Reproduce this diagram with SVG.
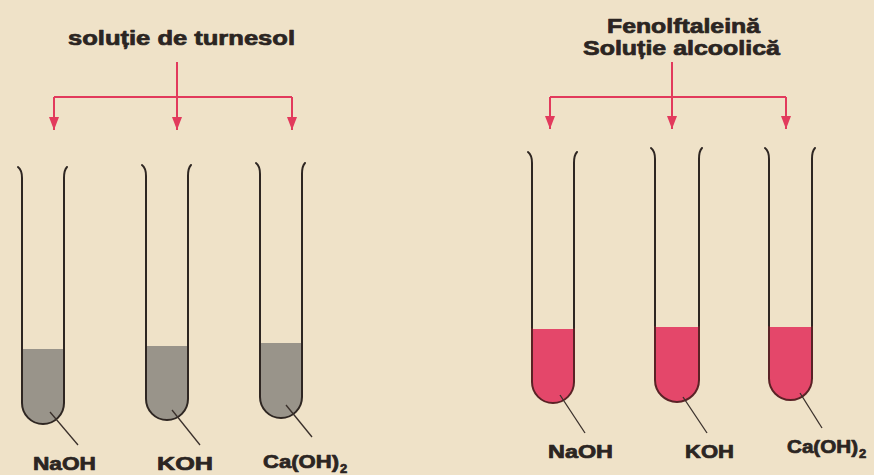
<svg xmlns="http://www.w3.org/2000/svg" width="874" height="475" viewBox="0 0 874 475">
  <defs>
    <style>
      .bg { fill: #efe2c8; }
      .lbl { font-family: "Liberation Sans", Arial, sans-serif; font-weight: bold; fill: #2b2522; stroke: #2b2522; stroke-width: 0.7; stroke-linejoin: round; }
      .wire { fill: none; stroke: #e23a5c; stroke-width: 2; }
      .glass { fill: none; stroke: #2e2622; stroke-width: 2; stroke-linecap: round; }
      .glass-red { fill: none; stroke: #5a2226; stroke-width: 2; stroke-linecap: round; }
      .lead { fill: none; stroke: #3a302b; stroke-width: 1.3; }
      .grey { fill: #99948a; }
      .pink { fill: #e4476a; }
    </style>
    <marker id="tip" viewBox="0 0 13 10" refX="13" refY="5" markerWidth="13" markerHeight="10" markerUnits="userSpaceOnUse" orient="auto">
      <path d="M0,0 L13,5 L0,10 Z" fill="#e23a5c"/>
    </marker>
  </defs>

  <rect class="bg" x="0" y="0" width="874" height="475"/>

  <!-- indicator labels -->
  <g id="title-litmus">
    <text class="lbl" x="68" y="45" font-size="20" textLength="227" lengthAdjust="spacingAndGlyphs">soluție de turnesol</text>
  </g>
  <g id="title-phenolphthalein">
    <text class="lbl" x="607" y="33" font-size="20" textLength="153" lengthAdjust="spacingAndGlyphs">Fenolftaleină</text>
    <text class="lbl" x="583" y="55" font-size="20" textLength="197" lengthAdjust="spacingAndGlyphs">Soluție alcoolică</text>
  </g>

  <!-- distribution arrows -->
  <g id="connectors">
    <path class="wire" d="M177,62 L177,130" marker-end="url(#tip)"/>
    <path class="wire" d="M54,97 L292,97"/>
    <path class="wire" d="M54,97 L54,130" marker-end="url(#tip)"/>
    <path class="wire" d="M292,97 L292,130" marker-end="url(#tip)"/>

    <path class="wire" d="M672,62 L672,129" marker-end="url(#tip)"/>
    <path class="wire" d="M550,97 L786,97"/>
    <path class="wire" d="M550,97 L550,129" marker-end="url(#tip)"/>
    <path class="wire" d="M786,97 L786,129" marker-end="url(#tip)"/>
  </g>

  <!-- litmus tubes -->
  <g id="tube-litmus-naoh">
    <path class="grey" d="M22,349 L22,403 A21,21 0 0 0 64,403 L64,349 Z"/>
    <path class="glass" d="M18,167 Q22,170 22,178 L22,403 A21,21 0 0 0 64,403 L64,178 Q64,170 67,167"/>
    <path class="lead" d="M50,412 L78,445"/>
    <text class="lbl" x="33" y="470" font-size="18" textLength="63" lengthAdjust="spacingAndGlyphs">NaOH</text>
  </g>
  <g id="tube-litmus-koh">
    <path class="grey" d="M146,346 L146,399 A21,21 0 0 0 188,399 L188,346 Z"/>
    <path class="glass" d="M142,165 Q146,168 146,176 L146,399 A21,21 0 0 0 188,399 L188,176 Q188,168 191,165"/>
    <path class="lead" d="M172,410 L200,445"/>
    <text class="lbl" x="157" y="470" font-size="18" textLength="56" lengthAdjust="spacingAndGlyphs">KOH</text>
  </g>
  <g id="tube-litmus-caoh2">
    <path class="grey" d="M260,343 L260,397 A21,21 0 0 0 302,397 L302,343 Z"/>
    <path class="glass" d="M256,163 Q260,166 260,174 L260,397 A21,21 0 0 0 302,397 L302,174 Q302,166 305,163"/>
    <path class="lead" d="M286,405 L312,437"/>
    <text class="lbl" x="263" y="468" font-size="18"><tspan textLength="76" lengthAdjust="spacingAndGlyphs">Ca(OH)</tspan><tspan x="340" y="473" font-size="13">2</tspan></text>
  </g>

  <!-- phenolphthalein tubes -->
  <g id="tube-phenol-naoh">
    <path class="pink" d="M532,329 L532,382 A21,21 0 0 0 574,382 L574,329 Z"/>
    <path class="glass" d="M528,152 Q532,155 532,163 L532,329"/>
    <path class="glass" d="M574,329 L574,163 Q574,155 577,152"/>
    <path class="glass-red" d="M532,329 L532,382 A21,21 0 0 0 574,382 L574,329"/>
    <path class="lead" d="M560,395 L585,433"/>
    <text class="lbl" x="548" y="458" font-size="18" textLength="65" lengthAdjust="spacingAndGlyphs">NaOH</text>
  </g>
  <g id="tube-phenol-koh">
    <path class="pink" d="M655,327 L655,380 A22,22 0 0 0 699,380 L699,327 Z"/>
    <path class="glass" d="M651,148 Q655,151 655,159 L655,327"/>
    <path class="glass" d="M699,327 L699,159 Q699,151 702,148"/>
    <path class="glass-red" d="M655,327 L655,380 A22,22 0 0 0 699,380 L699,327"/>
    <path class="lead" d="M683,397 L707,433"/>
    <text class="lbl" x="685" y="458" font-size="18" textLength="49" lengthAdjust="spacingAndGlyphs">KOH</text>
  </g>
  <g id="tube-phenol-caoh2">
    <path class="pink" d="M769,327 L769,378.5 A21.5,21.5 0 0 0 812,378.5 L812,327 Z"/>
    <path class="glass" d="M765,148 Q769,151 769,159 L769,327"/>
    <path class="glass" d="M812,327 L812,159 Q812,151 815,148"/>
    <path class="glass-red" d="M769,327 L769,378.5 A21.5,21.5 0 0 0 812,378.5 L812,327"/>
    <path class="lead" d="M800,393 L822,428"/>
    <text class="lbl" x="787" y="453" font-size="18"><tspan textLength="71" lengthAdjust="spacingAndGlyphs">Ca(OH)</tspan><tspan x="859" y="458" font-size="13">2</tspan></text>
  </g>
</svg>
